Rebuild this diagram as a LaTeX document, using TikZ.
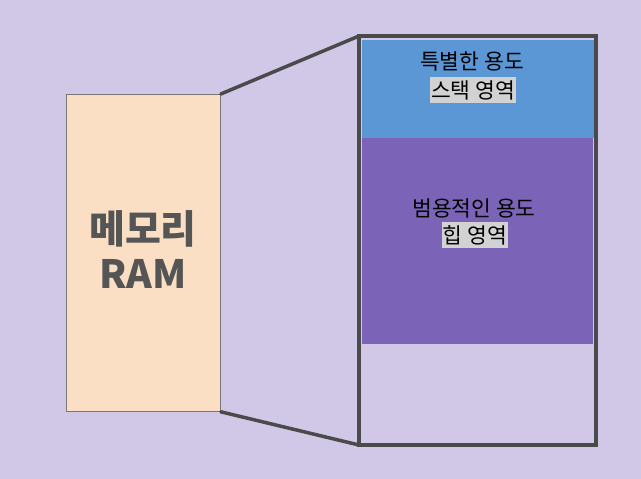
\documentclass[tikz,border=0pt]{standalone}
\usepackage{fontspec}
\setmainfont{Noto Sans CJK KR}
\newfontfamily\krfont{Noto Sans CJK KR}
\definecolor{bgc}{RGB}{208,200,230}
\definecolor{peach}{RGB}{251,223,196}
\definecolor{stackc}{RGB}{91,150,213}
\definecolor{heapc}{RGB}{123,99,183}
\definecolor{outl}{RGB}{74,74,74}
\definecolor{ramtxt}{RGB}{85,85,85}
\definecolor{hl}{RGB}{210,210,210}
\begin{document}
\begin{tikzpicture}[x=1pt,y=-1pt,
  lbl/.style={font=\krfont\fontsize{21.5}{26}\selectfont, text=black, inner sep=0pt},
  hlbox/.style={lbl, fill=hl, inner xsep=1pt, inner ysep=3pt},
  outline/.style={draw=outl, line width=3.5pt}]
\fill[bgc] (0,0) rectangle (641,479);
\useasboundingbox (0,0) rectangle (641,479);
% RAM box
\node[draw=ramtxt!80, line width=0.8pt, fill=peach, minimum width=154pt, minimum height=317pt, anchor=north west, inner sep=0pt] (ram) at (66,94) {};
\node[font=\krfont\bfseries\fontsize{39}{46}\selectfont, text=ramtxt, inner sep=0pt] (ramk) at (143,229) {메모리};
\node[font=\krfont\bfseries\fontsize{39}{46}\selectfont, text=ramtxt, inner sep=0pt] (rame) at (143,274) {RAM};
% memory regions
\node[fill=stackc, minimum width=233pt, minimum height=98pt, anchor=north west, inner sep=0pt] (stack) at (362,40) {};
\node[fill=heapc, minimum width=231pt, minimum height=206pt, anchor=north west, inner sep=0pt] (heap) at (362,138) {};
% outline of zoomed memory
\coordinate (ztl) at (359,36);
\coordinate (ztr) at (596,36);
\coordinate (zbl) at (359,445);
\coordinate (zbr) at (596,445);
\draw[outline, line join=miter] (ztl) -- (ztr) -- (zbr) -- (zbl) -- cycle;
\draw[outline, line cap=round] (ram.north east) -- (ztl);
\draw[outline, line cap=round] (ram.south east) -- (zbl);
% labels
\node[lbl] (s1) at (472,61) {특별한 용도};
\node[hlbox] (s2) at (473,90) {스택 영역};
\node[lbl] (h1) at (474,208) {범용적인 용도};
\node[hlbox] (h2) at (475,235) {힙 영역};
\end{tikzpicture}
\end{document}
